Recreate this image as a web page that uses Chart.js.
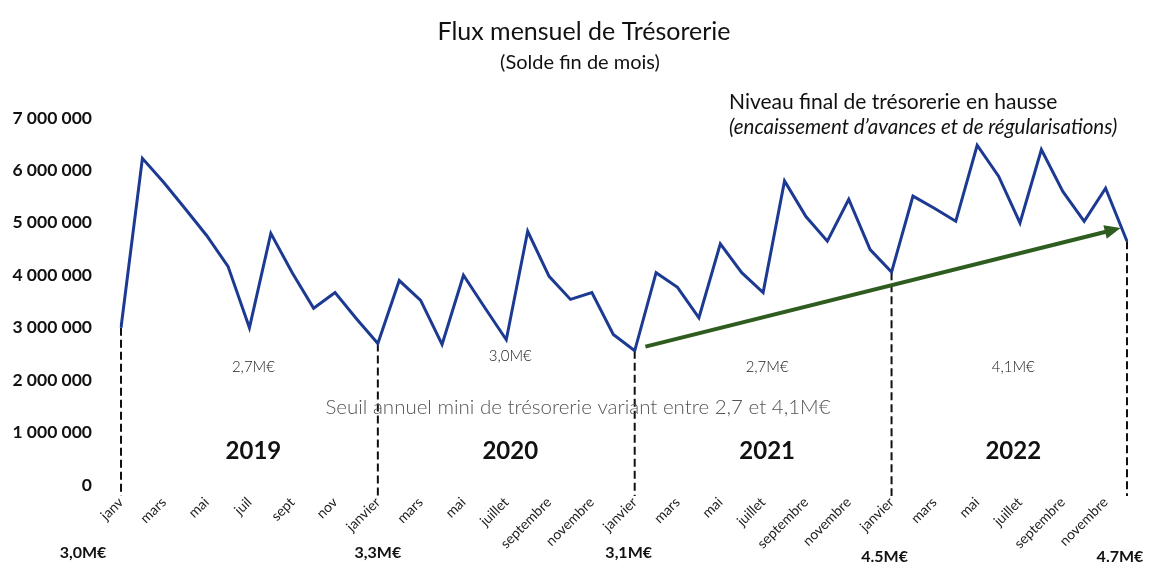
<!DOCTYPE html>
<html>
<head>
  <title>Flux mensuel de Trésorerie</title>
  <style>
    body { margin: 0; background: #fff; }
    canvas { display: block; }
  </style>
</head>
<body>
  <canvas id="cashChart" width="1151" height="569"></canvas>

  <script src="https://cdn.jsdelivr.net/npm/chart.js"></script>
  <script>
    // month labels (2019 abbreviated, then full names like the original sheet)
    const months2019 = ['janv', 'févr', 'mars', 'avr', 'mai', 'juin', 'juil', 'août', 'sept', 'oct', 'nov', 'déc'];
    const monthsFull = ['janvier', 'février', 'mars', 'avril', 'mai', 'juin', 'juillet', 'août', 'septembre', 'octobre', 'novembre', 'décembre'];
    const monthLabels = months2019.concat(monthsFull, monthsFull, monthsFull);

    // end of month balance
    const solde2019 = [3000000, 6230000, 5770000, 5270000, 4760000, 4170000, 3000000, 4800000, 4050000, 3370000, 3670000, 3170000];
    const solde2020 = [2700000, 3900000, 3520000, 2680000, 4000000, 3380000, 2770000, 4840000, 3980000, 3540000, 3670000, 2870000];
    const solde2021 = [2560000, 4050000, 3770000, 3190000, 4600000, 4050000, 3670000, 5800000, 5120000, 4650000, 5450000, 4490000];
    const solde2022 = [4060000, 5510000, 5280000, 5030000, 6480000, 5890000, 5000000, 6400000, 5600000, 5030000, 5660000, 4650000];
    const soldes = solde2019.concat(solde2020, solde2021, solde2022);

    const yTicks = [0, 1000000, 2000000, 3000000, 4000000, 5000000, 6000000, 7000000];

    // annotations
    const markerIdx = [0, 12, 24, 36, 47];
    const markerText = ['3,0M€', '3,3M€', '3,1M€', '4.5M€', '4.7M€'];
    const years = ['2019', '2020', '2021', '2022'];
    const yearMins = ['2,7M€', '3,0M€', '2,7M€', '4,1M€'];
    const arrowFrom = [24.5, 2640000];
    const arrowTo = [46.7, 4900000];

    const FONT = 'Lato, "Open Sans", sans-serif';

    const annotations = {
      id: 'annotations',
      beforeDatasetsDraw(chart) {
        const ctx = chart.ctx;
        const x = chart.scales.x, y = chart.scales.y;
        ctx.save();
        ctx.strokeStyle = '#111';
        ctx.lineWidth = 2;
        ctx.setLineDash([8, 4]);
        markerIdx.forEach(i => {
          const px = x.getPixelForValue(i);
          ctx.beginPath();
          ctx.moveTo(px, y.getPixelForValue(soldes[i]));
          ctx.lineTo(px, chart.chartArea.bottom + 11);
          ctx.stroke();
        });
        ctx.restore();
      },
      afterDatasetsDraw(chart) {
        const ctx = chart.ctx;
        const x = chart.scales.x, y = chart.scales.y;
        // green trend arrow
        const x1 = x.getPixelForValue(arrowFrom[0]), y1 = y.getPixelForValue(arrowFrom[1]);
        const x2 = x.getPixelForValue(arrowTo[0]), y2 = y.getPixelForValue(arrowTo[1]);
        const ang = Math.atan2(y2 - y1, x2 - x1);
        ctx.save();
        ctx.strokeStyle = '#2f5d1f';
        ctx.fillStyle = '#2f5d1f';
        ctx.lineWidth = 4;
        ctx.beginPath();
        ctx.moveTo(x1, y1);
        ctx.lineTo(x2 - 12 * Math.cos(ang), y2 - 12 * Math.sin(ang));
        ctx.stroke();
        ctx.beginPath();
        ctx.moveTo(x2, y2);
        ctx.lineTo(x2 - 16 * Math.cos(ang) + 7 * Math.sin(ang), y2 - 16 * Math.sin(ang) - 7 * Math.cos(ang));
        ctx.lineTo(x2 - 16 * Math.cos(ang) - 7 * Math.sin(ang), y2 - 16 * Math.sin(ang) + 7 * Math.cos(ang));
        ctx.closePath();
        ctx.fill();
        ctx.restore();
      },
      afterDraw(chart) {
        const ctx = chart.ctx;
        const x = chart.scales.x, y = chart.scales.y;
        const w = chart.width;
        ctx.save();
        ctx.textBaseline = 'middle';
        ctx.fillStyle = '#111';

        // title block
        ctx.textAlign = 'center';
        ctx.font = '25px ' + FONT;
        ctx.fillText('Flux mensuel de Trésorerie', 584, 32);
        ctx.font = '20px ' + FONT;
        ctx.fillText('(Solde fin de mois)', 580, 63);

        ctx.textAlign = 'left';
        ctx.font = '21px ' + FONT;
        ctx.fillText('Niveau final de trésorerie en hausse', 729, 102);
        ctx.font = 'italic 20.5px ' + FONT;
        ctx.fillText('(encaissement d\u2019avances et de régularisations)', 729, 127);

        // yearly blocks
        ctx.textAlign = 'center';
        for (let k = 0; k < years.length; k++) {
          const mid = (markerIdx[k] + markerIdx[k + 1]) / 2;
          const px = x.getPixelForValue(mid);
          ctx.font = 'bold 24px ' + FONT;
          ctx.fillStyle = '#111';
          ctx.fillText(years[k], px + 4, y.getPixelForValue(640000));
          ctx.font = '300 15px ' + FONT;
          ctx.fillStyle = '#222';
          ctx.fillText(yearMins[k], px + 4, y.getPixelForValue(k === 1 ? 2450000 : 2250000));
        }

        ctx.font = '300 20.5px ' + FONT;
        ctx.fillStyle = '#555';
        ctx.fillText('Seuil annuel mini de trésorerie variant entre 2,7 et 4,1M€', 578, y.getPixelForValue(1480000));

        // balance at each dashed marker
        ctx.font = 'bold 16px ' + FONT;
        ctx.fillStyle = '#111';
        const shift = [-38, 0, -6, -7, -7];
        const down = [553, 553, 553, 557, 557];
        markerIdx.forEach((i, k) => {
          ctx.fillText(markerText[k], x.getPixelForValue(i) + shift[k], down[k]);
        });
        ctx.restore();
      }
    };

    new Chart(document.getElementById('cashChart').getContext('2d'), {
      type: 'line',
      data: {
        labels: monthLabels,
        datasets: [{
          label: 'Solde fin de mois',
          data: soldes,
          borderColor: '#1c3a92',
          borderWidth: 3,
          pointRadius: 0,
          tension: 0
        }]
      },
      plugins: [annotations],
      options: {
        responsive: false,
        animation: false,
        layout: { padding: { top: 118, right: 24, left: 0, bottom: 0 } },
        plugins: {
          legend: { display: false },
          tooltip: { enabled: false }
        },
        scales: {
          x: {
            offset: false,
            grid: { display: false, drawTicks: false },
            border: { display: false },
            afterFit: s => { s.height = 84; },
            ticks: {
              autoSkip: false,
              minRotation: 45,
              maxRotation: 45,
              padding: 9,
              color: '#222',
              font: { family: FONT, size: 14 },
              callback: function (v, i) { return i % 2 === 0 ? this.getLabelForValue(v) : ''; }
            }
          },
          y: {
            min: 0,
            max: 7000000,
            grid: { display: false, drawTicks: false },
            border: { display: false },
            afterFit: s => { s.width = 121; },
            afterBuildTicks: s => { s.ticks = yTicks.map(v => ({ value: v })); },
            ticks: {
              padding: 29,
              color: '#111',
              font: { family: FONT, size: 17.5, weight: 'bold' },
              callback: v => v.toLocaleString('fr-FR').replace(/\s/g, ' ')
            }
          }
        }
      }
    });
  </script>
</body>
</html>
